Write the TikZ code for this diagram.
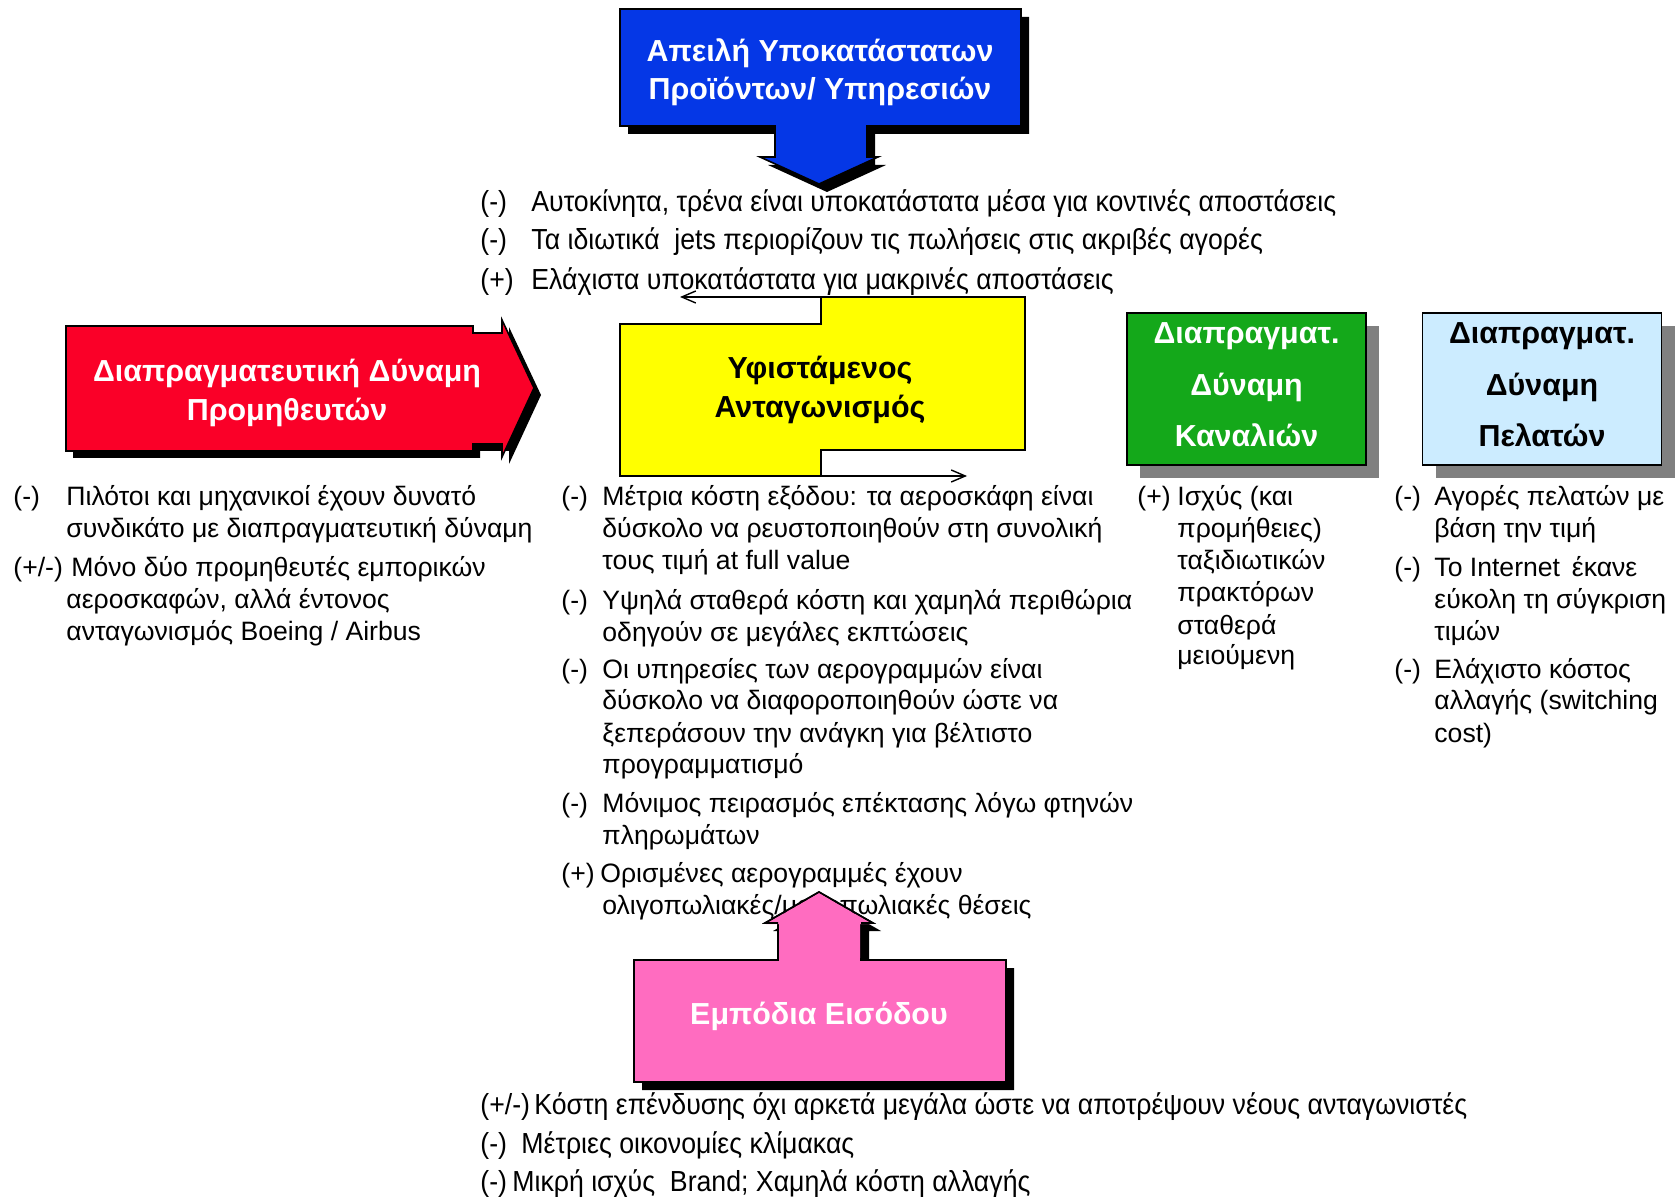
\documentclass[tikz,border=0pt]{standalone}
\usepackage{fontspec}
\setmainfont{Liberation Sans}
\newfontfamily\narrowfont{Liberation Sans}[FakeStretch=0.92]
\usetikzlibrary{arrows.meta,shadows}

\definecolor{boxblue}{RGB}{5,55,230}
\definecolor{boxred}{RGB}{250,0,40}
\definecolor{boxyellow}{RGB}{255,255,0}
\definecolor{boxgreen}{RGB}{20,168,26}
\definecolor{boxsky}{RGB}{204,236,255}
\definecolor{boxpink}{RGB}{255,108,192}
\definecolor{shadowgrey}{RGB}{128,128,128}

% outlines of the callout shapes (pixel-like units, y downwards)
\def\substpath{(620,9) -- (1021,9) -- (1021,126) -- (867,126) -- (867,157) -- (878,157) -- (819,184) -- (760,157) -- (775,157) -- (775,126) -- (620,126) -- cycle}
\def\supplpath{(66,326) -- (473,326) -- (473,333) -- (502,333) -- (502,320) -- (534,388) -- (502,457) -- (502,444) -- (473,444) -- (473,451) -- (66,451) -- cycle}
\def\entrypath{(634,960) -- (778,960) -- (778,923) -- (765,923) -- (819,892) -- (873,923) -- (861,923) -- (861,960) -- (1006,960) -- (1006,1082) -- (634,1082) -- cycle}
\def\rivalpath{(620,324) -- (821,324) -- (821,297) -- (1025,297) -- (1025,450) -- (821,450) -- (821,476) -- (620,476) -- cycle}

\begin{document}
\begin{tikzpicture}[x=0.5pt,y=-0.5pt,
  head/.style={font=\bfseries\fontsize{15.2}{19.2}\selectfont, align=center, inner sep=0},
  sidehead/.style={font=\bfseries\fontsize{15.2}{25.7}\selectfont, align=center, inner sep=0},
  outline/.style={draw=black, line width=0.8pt},
  body/.style={font=\fontsize{13.3}{16}\selectfont, anchor=base west, inner sep=0},
  wide/.style={font=\narrowfont\fontsize{14.5}{18}\selectfont, anchor=base west, inner sep=0},
  link/.style={-{Straight Barb[length=7pt,width=6pt]}, line width=0.7pt},
  sidebox/.style={outline, minimum width=119.5pt, minimum height=76pt, inner sep=0,
    drop shadow={shadow xshift=6.5pt, shadow yshift=-6.5pt, fill=shadowgrey, opacity=1}}
]
\useasboundingbox[fill=white] (0,0) rectangle (1676,1197);

% threat of substitutes: box with a downward arrow
\fill[black, shift={(8,8)}] \substpath;
\filldraw[outline, fill=boxblue] \substpath;
\node[head, text=white] (subst) at (820,72) {Απειλή Υποκατάστατων\\Προϊόντων/ Υπηρεσιών};

% supplier power: box with a right arrow
\fill[black, shift={(7,7)}] \supplpath;
\filldraw[outline, fill=boxred] \supplpath;
\node[head, text=white] (suppl) at (287,393) {Διαπραγματευτική Δύναμη\\Προμηθευτών};

% existing rivalry
\filldraw[outline, fill=boxyellow] \rivalpath;
\node[head] (rival) at (820,390) {Υφιστάμενος\\Ανταγωνισμός};
\coordinate (rivaltop) at (821,297);
\coordinate (rivaltopend) at (680,297);
\coordinate (rivalbot) at (821,476);
\coordinate (rivalbotend) at (967,476);
\draw[link] (rivaltop) -- (rivaltopend);
\draw[link] (rivalbot) -- (rivalbotend);

% channel and buyer power
\node[sidebox, fill=boxgreen] (chan) at (1246.5,389) {};
\node[sidehead, text=white] (chantxt) at (chan) [yshift=2pt] {Διαπραγματ.\\Δύναμη\\Καναλιών};
\node[sidebox, fill=boxsky] (buyer) at (1542,389) {};
\node[sidehead] (buyertxt) at (buyer) [yshift=2pt] {Διαπραγματ.\\Δύναμη\\Πελατών};

% barriers to entry: box with an upward arrow
\fill[black, shift={(8,8)}] \entrypath;
\filldraw[outline, fill=boxpink] \entrypath;
\node[head, text=white] (entry) at (819,1016) {Εμπόδια Εισόδου};

% substitutes list
\node[wide] (s1l) at (480,212) {(-)};
\node[wide] (s1) at (531,212) {Αυτοκίνητα, τρένα είναι υποκατάστατα μέσα για κοντινές αποστάσεις};
\node[wide] (s2l) at (480,250) {(-)};
\node[wide] (s2) at (531,250) {Τα ιδιωτικά \ jets περιορίζουν τις πωλήσεις στις ακριβές αγορές};
\node[wide] (s3l) at (480,290) {(+)};
\node[wide] (s3) at (531,290) {Ελάχιστα υποκατάστατα για μακρινές αποστάσεις};

% supplier list
\node[body] (p1l) at (13,506) {(-)};
\node[body] (p1a) at (66,506) {Πιλότοι και μηχανικοί έχουν δυνατό};
\node[body] (p1b) at (66,538) {συνδικάτο με διαπραγματευτική δύναμη};
\node[body] (p2l) at (13,577) {(+/-)};
\node[body] (p2a) at (71,577) {Μόνο δύο προμηθευτές εμπορικών};
\node[body] (p2b) at (66,609) {αεροσκαφών, αλλά έντονος};
\node[body] (p2c) at (66,640) {ανταγωνισμός Boeing / Airbus};

% rivalry list
\node[body] (r1l) at (561,506) {(-)};
\node[body] (r1a) at (602,506) {Μέτρια κόστη εξόδου: τα αεροσκάφη είναι};
\node[body] (r1b) at (602,538) {δύσκολο να ρευστοποιηθούν στη συνολική};
\node[body] (r1c) at (602,570) {τους τιμή at full value};
\node[body] (r2l) at (561,610) {(-)};
\node[body] (r2a) at (602,610) {Υψηλά σταθερά κόστη και χαμηλά περιθώρια};
\node[body] (r2b) at (602,641) {οδηγούν σε μεγάλες εκπτώσεις};
\node[body] (r3l) at (561,678) {(-)};
\node[body] (r3a) at (602,678) {Οι υπηρεσίες των αερογραμμών είναι};
\node[body] (r3b) at (602,710) {δύσκολο να διαφοροποιηθούν ώστε να};
\node[body] (r3c) at (602,742) {ξεπεράσουν την ανάγκη για βέλτιστο};
\node[body] (r3d) at (602,773) {προγραμματισμό};
\node[body] (r4l) at (561,812) {(-)};
\node[body] (r4a) at (602,812) {Μόνιμος πειρασμός επέκτασης λόγω φτηνών};
\node[body] (r4b) at (602,844) {πληρωμάτων};
\node[body] (r5l) at (561,882) {(+)};
\node[body] (r5a) at (600,882) {Ορισμένες αερογραμμές έχουν};
\node[body] (r5b) at (602,914) {ολιγοπωλιακές/μονοπωλιακές θέσεις};

% channel list
\node[body] (c1l) at (1137,506) {(+)};
\node[body] (c1a) at (1177,506) {Ισχύς (και};
\node[body] (c1b) at (1177,538) {προμήθειες)};
\node[body] (c1c) at (1177,570) {ταξιδιωτικών};
\node[body] (c1d) at (1177,602) {πρακτόρων};
\node[body] (c1e) at (1177,634) {σταθερά};
\node[body] (c1f) at (1177,665) {μειούμενη};

% buyer list
\node[body] (b1l) at (1394,506) {(-)};
\node[body] (b1a) at (1434,506) {Αγορές πελατών με};
\node[body] (b1b) at (1434,538) {βάση την τιμή};
\node[body] (b2l) at (1394,577) {(-)};
\node[body] (b2a) at (1434,577) {Το Internet \,έκανε};
\node[body] (b2b) at (1434,609) {εύκολη τη σύγκριση};
\node[body] (b2c) at (1434,640) {τιμών};
\node[body] (b3l) at (1394,678) {(-)};
\node[body] (b3a) at (1434,678) {Ελάχιστο κόστος};
\node[body] (b3b) at (1434,710) {αλλαγής (switching};
\node[body] (b3c) at (1434,742) {cost)};

% the entry arrow head sits over the last rivalry line
\fill[boxpink] (779,924) -- (766,924) -- (819,893) -- (872,924) -- (860,924) -- (860,958) -- (779,958) -- cycle;
\draw[outline] (778,923) -- (765,923) -- (819,892) -- (873,923) -- (861,923);

% entry barriers list
\node[wide] (e1l) at (480,1114) {(+/-)};
\node[wide] (e1) at (534,1114) {Κόστη επένδυσης όχι αρκετά μεγάλα ώστε να αποτρέψουν νέους ανταγωνιστές};
\node[wide] (e2l) at (480,1153) {(-)};
\node[wide] (e2) at (521,1153) {Μέτριες οικονομίες κλίμακας};
\node[wide] (e3l) at (480,1191) {(-)};
\node[wide] (e3) at (512,1191) {Μικρή ισχύς \ Brand; Χαμηλά κόστη αλλαγής};
\end{tikzpicture}
\end{document}
